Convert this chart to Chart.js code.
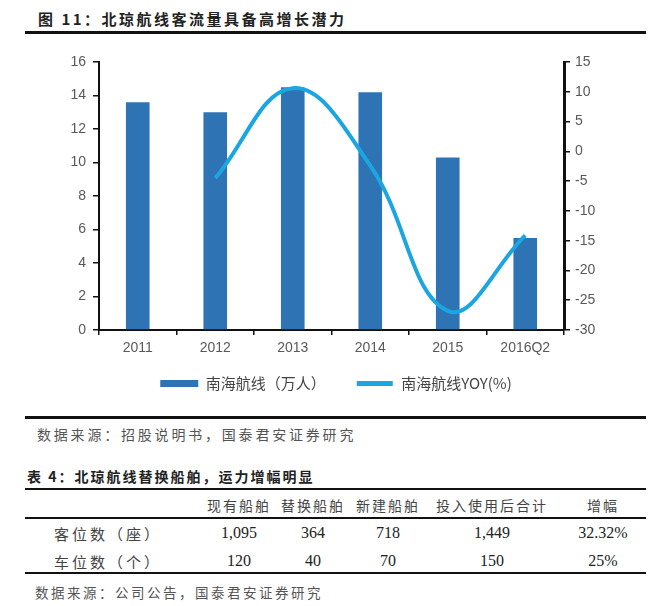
<!DOCTYPE html>
<html>
<head>
<meta charset="utf-8">
<script src="https://cdn.jsdelivr.net/npm/chart.js@4"></script>
<style>
  body { margin: 0; background: #fff; width: 672px; height: 606px; overflow: hidden; position: relative;
         font-family: "Noto Sans CJK SC", sans-serif; color: #333; }
  .t { position: absolute; white-space: nowrap; }
  .c { position: absolute; white-space: nowrap; transform: translate(-50%, -50%); }
  .rule { position: absolute; left: 25px; width: 621px; background: #111; }
  .num { font-family: "Liberation Serif", serif; font-size: 16px; color: #222; }
  .hd { font-size: 14px; letter-spacing: 2px; color: #444; }
  #wrap { position: absolute; left: 0; top: 40px; width: 672px; height: 381px; }
</style>
</head>
<body>
<div class="t" style="left:38px;top:8px;font-size:15px;font-weight:bold;letter-spacing:2.5px;color:#222;">图 11：北琼航线客流量具备高增长潜力</div>
<div class="rule" style="top:31px;height:3px;"></div>

<div id="wrap"><canvas id="myChart"></canvas></div>

<div class="rule" style="top:416px;height:3px;"></div>
<div class="t" style="left:37px;top:424px;font-size:14px;letter-spacing:2.8px;color:#555;">数据来源：招股说明书，国泰君安证券研究</div>

<div class="t" style="left:27px;top:466px;font-size:14px;font-weight:bold;letter-spacing:2px;color:#222;">表 4：北琼航线替换船舶，运力增幅明显</div>
<div class="rule" style="top:488px;height:2px;"></div>
<div id="table"></div>
<div class="rule" style="top:517px;height:1.5px;"></div>
<div class="rule" style="top:572px;height:2px;"></div>
<div class="t" style="left:35px;top:582px;font-size:13.5px;letter-spacing:2.5px;color:#555;">数据来源：公司公告，国泰君安证券研究</div>

<script>
// chart data
const years = ['2011', '2012', '2013', '2014', '2015', '2016Q2'];
const passengers = [13.6, 13.0, 14.5, 14.2, 10.3, 5.5];   // 南海航线（万人）
const yoy = [null, -4.5, 10.6, -2.4, -26.8, -14.1];         // 南海航线YOY(%)

// table data
const tableHead = ['现有船舶', '替换船舶', '新建船舶', '投入使用后合计', '增幅'];
const rowNames = ['客位数（座）', '车位数（个）'];
const seats = ['1,095', '364', '718', '1,449', '32.32%'];
const cars = ['120', '40', '70', '150', '25%'];

// table text, placed by column centre
const colX = [239, 313, 388, 492, 603];
const rowY = [533, 561];
let html = '';
tableHead.forEach((h, i) => {
  html += '<div class="c hd" style="left:' + colX[i] + 'px;top:505px;">' + h + '</div>';
});
[seats, cars].forEach((row, r) => {
  html += '<div class="c hd" style="left:108px;top:' + rowY[r] + 'px;font-size:15px;letter-spacing:3px;">' + rowNames[r] + '</div>';
  row.forEach((v, i) => {
    html += '<div class="c num" style="left:' + colX[i] + 'px;top:' + rowY[r] + 'px;">' + v + '</div>';
  });
});
document.getElementById('table').innerHTML = html;

const tickFont = { family: 'Liberation Sans', size: 14 };
const tickColor = '#595959';

// legend padding is big for the gap between items; pull the legend back up
const legendUp = {
  id: 'legendUp',
  afterLayout(chart) {
    if (chart.legend) {
      chart.legend.top -= 20;
      chart.legend.bottom -= 20;
    }
  }
};

new Chart(document.getElementById('myChart'), {
  type: 'bar',
  plugins: [legendUp],
  data: {
    labels: years,
    datasets: [
      {
        label: '南海航线（万人）',
        data: passengers,
        backgroundColor: '#2e74b5',
        barPercentage: 0.305,
        categoryPercentage: 1,
        yAxisID: 'y',
        order: 2
      },
      {
        type: 'line',
        label: '南海航线YOY(%)',
        data: yoy,
        borderColor: '#1ba6e2',
        backgroundColor: '#1ba6e2',
        borderWidth: 4,
        pointRadius: 0,
        tension: 0.4,
        fill: false,
        yAxisID: 'y2',
        order: 1
      }
    ]
  },
  options: {
    responsive: true,
    maintainAspectRatio: false,
    animation: false,
    layout: { padding: { top: 22, left: 0, right: 0, bottom: 0 } },
    plugins: {
      tooltip: { enabled: false },
      legend: {
        position: 'bottom',
        labels: {
          boxWidth: 38,
          boxHeight: 7,
          padding: 30,
          color: '#444',
          font: { family: 'Noto Sans CJK SC', size: 15 },
          sort: (a, b) => a.datasetIndex - b.datasetIndex,
          generateLabels: chart => {
            const items = Chart.defaults.plugins.legend.labels.generateLabels(chart);
            items.forEach(it => {
              const ds = chart.data.datasets[it.datasetIndex];
              it.fillStyle = ds.borderColor || ds.backgroundColor;
              if (ds.type === 'line') {
                // thinner swatch for the line series
                it.strokeStyle = '#fff';
                it.lineWidth = 2;
              } else {
                it.strokeStyle = ds.backgroundColor;
                it.lineWidth = 0;
              }
            });
            return items;
          }
        }
      }
    },
    scales: {
      x: {
        grid: { drawOnChartArea: false, tickLength: 5, color: '#111', lineWidth: 1.5 },
        border: { color: '#111', width: 2 },
        ticks: { color: tickColor, font: tickFont, padding: 5 },
        afterFit: s => { s.height = 36; }
      },
      y: {
        position: 'left',
        min: 0, max: 16,
        grid: { drawOnChartArea: false, tickLength: 6, color: '#111', lineWidth: 1.5 },
        border: { color: '#111', width: 2 },
        ticks: { stepSize: 2, color: tickColor, font: tickFont, padding: 7 },
        afterFit: s => { s.width = 99; }
      },
      y2: {
        position: 'right',
        min: -30, max: 15,
        grid: { drawOnChartArea: false, tickLength: 6, color: '#111', lineWidth: 1.5 },
        border: { color: '#111', width: 3 },
        ticks: { stepSize: 5, color: tickColor, font: tickFont, padding: 5 },
        afterFit: s => { s.width = 108; }
      }
    }
  }
});
</script>
</body>
</html>
